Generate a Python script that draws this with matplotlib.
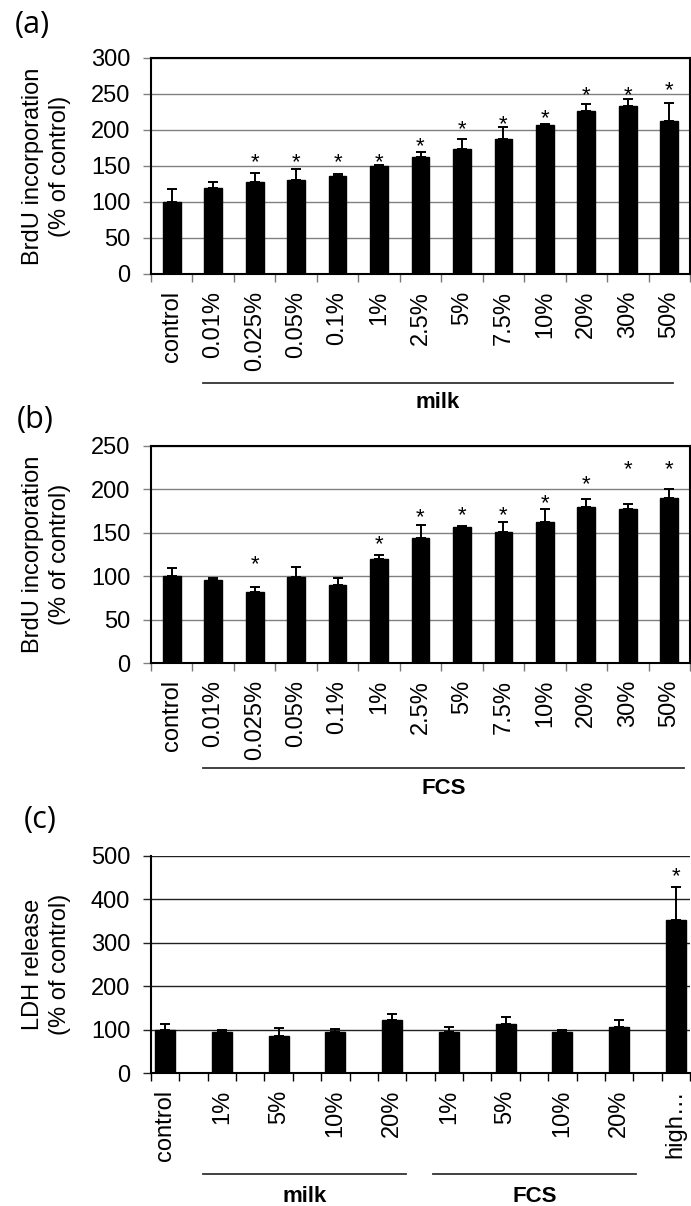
import numpy as np
import matplotlib
matplotlib.use("Agg")
import matplotlib.pyplot as plt
import matplotlib.transforms as mtransforms

plt.rcParams["font.family"] = ["Liberation Sans", "DejaVu Sans"]

# panel (a): BrdU, milk
cats_ab = ["control", "0.01%", "0.025%", "0.05%", "0.1%", "1%", "2.5%",
           "5%", "7.5%", "10%", "20%", "30%", "50%"]
brdu_milk = [100, 119, 127.5, 130, 135.5, 149.5, 162.5, 174, 187.5, 207.5, 226.5, 233.5, 212.5]
brdu_milk_err = [18.5, 9, 12.5, 15.5, 3, 1.5, 7.5, 14, 16, 1, 10, 10, 25]
brdu_milk_star = [np.nan, np.nan, 161, 161, 161, 161, 184, 207, 215, 222, 254, 254, 262]

# panel (b): BrdU, FCS
brdu_fcs = [100, 95.5, 82, 99.5, 89.5, 119.5, 144, 157, 150.5, 162.5, 180, 177, 190]
brdu_fcs_err = [9.5, 3, 6, 11, 9, 4.5, 14.5, 1, 12.5, 14.5, 9, 6.5, 10]
brdu_fcs_star = [np.nan, np.nan, 119.5, np.nan, np.nan, 141.5, 173, 176, 175, 189, 211, 228, 228]

# panel (c): LDH
cats_c = ["control", "1%", "5%", "10%", "20%", "1%", "5%", "10%", "20%", "high\u2026"]
ldh = [100, 94, 86, 95.5, 121, 95.5, 112, 94.5, 106, 352]
ldh_err = [13, 4.5, 17, 6, 15, 10.5, 17, 4, 15, 76]
ldh_star = [np.nan] * 9 + [464]

fig = plt.figure(figsize=(6.91, 12.06), dpi=100)
L, R = 151 / 691, 690 / 691


def fy(px):
    return 1 - px / 1206


def bar_panel(rect, x, vals, err, star, ylim, step, grid_color, boxed, width):
    ax = fig.add_axes(rect)
    ax.bar(x, vals, width=width, color="black", edgecolor="black", zorder=3)
    ax.errorbar(x, vals, yerr=[np.zeros(len(err)), err], fmt="none",
                ecolor="black", elinewidth=1.4, capsize=3.4, capthick=1.4, zorder=4)
    for xi, si in zip(x, star):
        if not np.isnan(si):
            # the glyph sits high in its line box, so nudge it down a little
            ax.annotate("*", (xi, si), xytext=(0, -3.6), textcoords="offset points",
                        ha="center", va="center", fontsize=16, zorder=5)
    ax.set_ylim(*ylim)
    ax.set_yticks(np.arange(ylim[0], ylim[1] + 1, step))
    for t in ax.get_yticks()[1:]:
        ax.axhline(t, color=grid_color, lw=1.0, zorder=1)
    ax.tick_params(axis="y", labelsize=17, length=6, width=1, color=grid_color, pad=9)
    ax.tick_params(axis="x", which="major", length=0, labelsize=17, pad=12)
    ax.tick_params(axis="x", which="minor", length=6, width=1, color="#777777")
    for s in ["left", "bottom"]:
        ax.spines[s].set_linewidth(1.5)
    for s in ["top", "right"]:
        ax.spines[s].set_visible(boxed)
        ax.spines[s].set_linewidth(1.5)
    return ax


# (a)
xa = np.arange(len(cats_ab))
axa = bar_panel([L, fy(274), R - L, (274 - 58) / 1206], xa, brdu_milk, brdu_milk_err,
                brdu_milk_star, (0, 300), 50, "#808080", True, 0.43)
axa.set_xlim(-0.5, len(cats_ab) - 0.5)
axa.set_xticks(xa)
axa.set_xticklabels(cats_ab, rotation=90)
axa.set_xticks(np.arange(-0.5, len(cats_ab)), minor=True)
axa.set_ylabel("BrdU incorporation\n(% of control)", fontsize=17, linespacing=1.3, labelpad=14)

# (b)
axb = bar_panel([L, fy(663), R - L, (663 - 446) / 1206], xa, brdu_fcs, brdu_fcs_err,
                brdu_fcs_star, (0, 250), 50, "#808080", True, 0.43)
axb.set_xlim(-0.5, len(cats_ab) - 0.5)
axb.set_xticks(xa)
axb.set_xticklabels(cats_ab, rotation=90)
axb.set_xticks(np.arange(-0.5, len(cats_ab)), minor=True)
axb.set_ylabel("BrdU incorporation\n(% of control)", fontsize=17, linespacing=1.3, labelpad=14)

# (c) bars sit on every other slot
xc = np.arange(len(cats_c)) * 2
axc = bar_panel([L, fy(1073), R - L, (1073 - 856) / 1206], xc, ldh, ldh_err,
                ldh_star, (0, 500), 100, "#222222", False, 0.7)
axc.set_xlim(-0.5, xc[-1] + 0.5)
axc.set_xticks(xc)
axc.set_xticklabels(cats_c, rotation=90)
axc.set_xticks(np.arange(-0.5, xc[-1] + 1), minor=True)
axc.tick_params(axis="x", which="minor", color="black")
axc.set_ylabel("LDH release\n(% of control)", fontsize=17, linespacing=1.3, labelpad=14)

# group brackets under the tick labels
def group(ax, x0, x1, y_line, y_text, label):
    tr = mtransforms.blended_transform_factory(ax.transData, fig.transFigure)
    ax.plot([x0, x1], [fy(y_line), fy(y_line)], color="#333333", lw=1.3,
            transform=tr, clip_on=False)
    ax.text((x0 + x1) / 2, fy(y_text), label, transform=tr, ha="center", va="center",
            fontsize=16, fontweight="bold")


group(axa, 0.75, 12.1, 383, 403, "milk")
group(axb, 0.75, 12.35, 768, 788, "FCS")
group(axc, 1.35, 8.5, 1174, 1197, "milk")
group(axc, 9.45, 16.6, 1174, 1197, "FCS")

for lbl, x, y in [("(a)", 32, 25), ("(b)", 35, 420), ("(c)", 40, 820)]:
    fig.text(x / 691, fy(y), lbl, ha="center", va="center", fontsize=22,
             family=["Open Sans", "DejaVu Sans"])

fig.savefig("out.png", dpi=100)
